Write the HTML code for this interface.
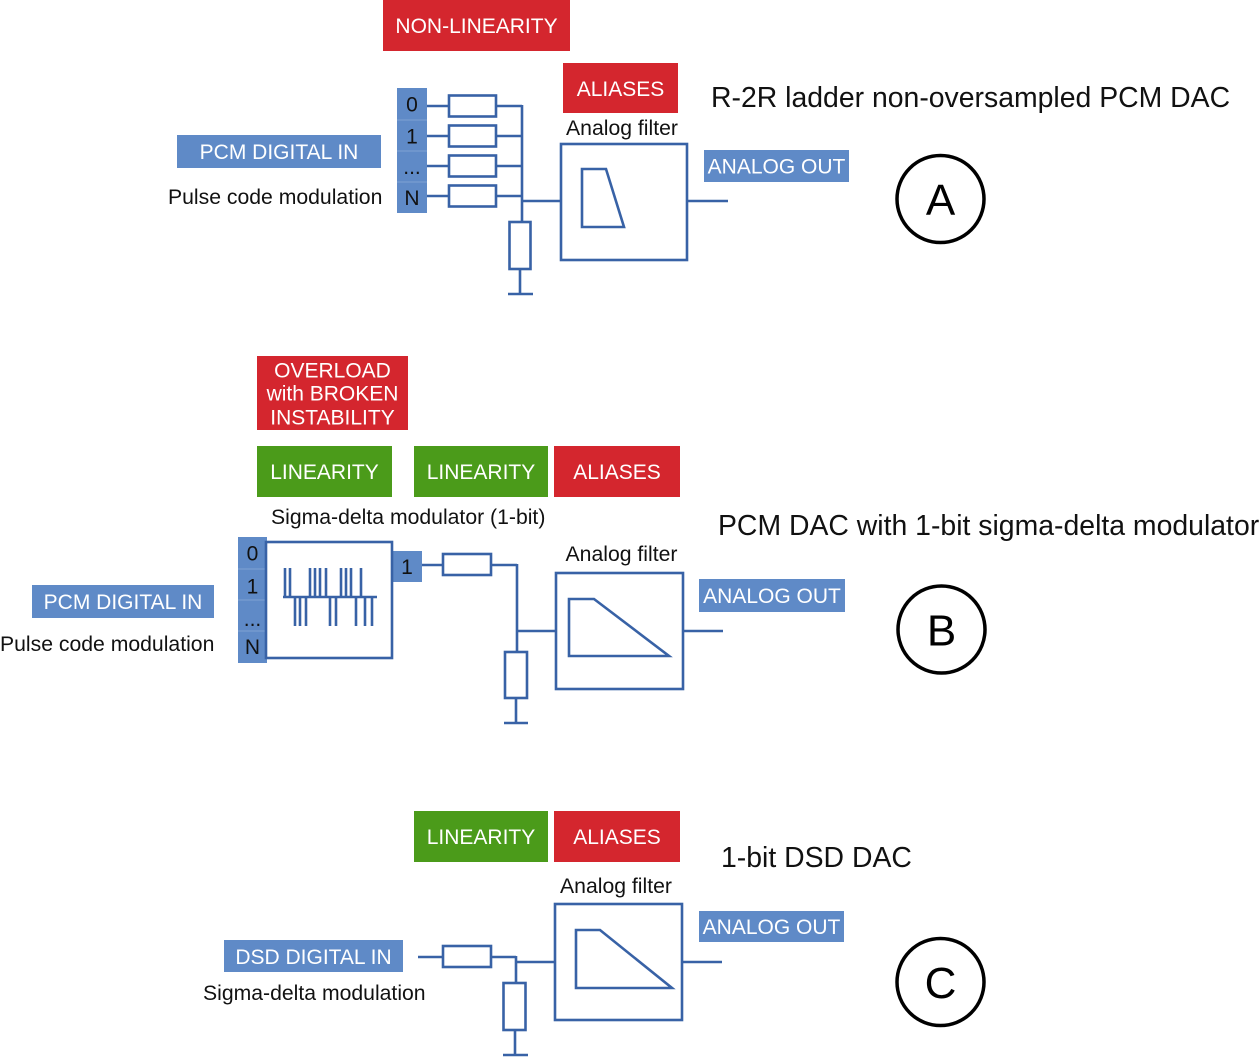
<!DOCTYPE html>
<html>
<head>
<meta charset="utf-8">
<style>
  html,body{margin:0;padding:0;background:#fff;}
  svg{display:block;}
  text{font-family:"Liberation Sans", Arial, sans-serif;}
</style>
</head>
<body>
<svg width="1260" height="1057" viewBox="0 0 1260 1057" xmlns="http://www.w3.org/2000/svg">
  <rect x="0" y="0" width="1260" height="1057" fill="#ffffff"/>

  <!-- ================= A ================= -->
  <rect x="383" y="0" width="187" height="51" fill="#d4262e"/>
  <text x="476.5" y="33" font-size="21" fill="#fff" text-anchor="middle">NON-LINEARITY</text>

  <rect x="563" y="63" width="115" height="50" fill="#d4262e"/>
  <text x="620.5" y="96" font-size="21" fill="#fff" text-anchor="middle">ALIASES</text>

  <text x="711" y="107" font-size="28.4" fill="#111">R-2R ladder non-oversampled PCM DAC</text>

  <text x="622" y="135" font-size="21.2" fill="#111" text-anchor="middle">Analog filter</text>

  <rect x="177" y="135" width="204" height="33" fill="#5f8ac7"/>
  <text x="279" y="159" font-size="21" fill="#fff" text-anchor="middle">PCM DIGITAL IN</text>
  <text x="168" y="204" font-size="21.2" fill="#111">Pulse code modulation</text>

  <!-- bit column A -->
  <rect x="397" y="88" width="30" height="125" fill="#5f8ac7"/>
  <g stroke="#7fa3d3" stroke-width="1">
    <line x1="397" y1="120" x2="427" y2="120"/>
    <line x1="397" y1="151" x2="427" y2="151"/>
    <line x1="397" y1="182" x2="427" y2="182"/>
  </g>
  <text x="412" y="111.5" font-size="21" fill="#111" text-anchor="middle">0</text>
  <text x="412" y="143.5" font-size="21" fill="#111" text-anchor="middle">1</text>
  <text x="412" y="174" font-size="21" fill="#111" text-anchor="middle">...</text>
  <text x="412" y="205" font-size="21" fill="#111" text-anchor="middle">N</text>

  <g stroke="#3862a6" stroke-width="2.6" fill="#fff">
    <line x1="427" y1="106" x2="449" y2="106"/>
    <line x1="427" y1="136" x2="449" y2="136"/>
    <line x1="427" y1="166" x2="449" y2="166"/>
    <line x1="427" y1="196" x2="449" y2="196"/>
    <rect x="449" y="95.5" width="47" height="21"/>
    <rect x="449" y="125.5" width="47" height="21"/>
    <rect x="449" y="155.5" width="47" height="21"/>
    <rect x="449" y="185.5" width="47" height="21"/>
    <line x1="496" y1="106" x2="522" y2="106"/>
    <line x1="496" y1="136" x2="522" y2="136"/>
    <line x1="496" y1="166" x2="522" y2="166"/>
    <line x1="496" y1="196" x2="522" y2="196"/>
    <line x1="522" y1="105" x2="522" y2="222"/>
    <line x1="522" y1="201" x2="561" y2="201"/>
    <rect x="509.5" y="222" width="21" height="47"/>
    <line x1="520" y1="269" x2="520" y2="294"/>
    <line x1="508" y1="294" x2="533" y2="294"/>
    <rect x="561" y="144" width="126" height="116"/>
    <polygon points="582,169 606,169 624,227 582,227" fill="none"/>
    <line x1="687" y1="201" x2="728" y2="201"/>
  </g>

  <rect x="704" y="150" width="145" height="32" fill="#5f8ac7"/>
  <text x="776.5" y="173.5" font-size="21" fill="#fff" text-anchor="middle">ANALOG OUT</text>

  <circle cx="940.5" cy="199" r="43.5" fill="none" stroke="#000" stroke-width="3.5"/>
  <text x="940.5" y="215" font-size="44" fill="#000" text-anchor="middle">A</text>

  <!-- ================= B ================= -->
  <rect x="257" y="356" width="151" height="74" fill="#d4262e"/>
  <text x="332.5" y="377.5" font-size="21" fill="#fff" text-anchor="middle">OVERLOAD</text>
  <text x="332.5" y="400.5" font-size="21" fill="#fff" text-anchor="middle">with BROKEN</text>
  <text x="332.5" y="424.5" font-size="21" fill="#fff" text-anchor="middle">INSTABILITY</text>

  <rect x="257" y="446" width="135" height="51" fill="#4b9b1a"/>
  <text x="324.5" y="479" font-size="21" fill="#fff" text-anchor="middle">LINEARITY</text>
  <rect x="414" y="446" width="134" height="51" fill="#4b9b1a"/>
  <text x="481" y="479" font-size="21" fill="#fff" text-anchor="middle">LINEARITY</text>
  <rect x="554" y="446" width="126" height="51" fill="#d4262e"/>
  <text x="617" y="479" font-size="21" fill="#fff" text-anchor="middle">ALIASES</text>

  <text x="271" y="524" font-size="21.2" fill="#111">Sigma-delta modulator (1-bit)</text>
  <text x="718" y="535" font-size="28.4" fill="#111">PCM DAC with 1-bit sigma-delta modulator</text>

  <text x="621.5" y="561" font-size="21.2" fill="#111" text-anchor="middle">Analog filter</text>

  <rect x="32" y="585" width="182" height="33" fill="#5f8ac7"/>
  <text x="123" y="609" font-size="21" fill="#fff" text-anchor="middle">PCM DIGITAL IN</text>
  <text x="0" y="651" font-size="21.2" fill="#111">Pulse code modulation</text>

  <!-- bit column B -->
  <rect x="238" y="537" width="29" height="126" fill="#5f8ac7"/>
  <g stroke="#7fa3d3" stroke-width="1">
    <line x1="238" y1="569" x2="267" y2="569"/>
    <line x1="238" y1="600" x2="267" y2="600"/>
    <line x1="238" y1="631" x2="267" y2="631"/>
  </g>
  <text x="252.5" y="560.5" font-size="21" fill="#111" text-anchor="middle">0</text>
  <text x="252.5" y="593.5" font-size="21" fill="#111" text-anchor="middle">1</text>
  <text x="252.5" y="626" font-size="21" fill="#111" text-anchor="middle">...</text>
  <text x="252.5" y="654" font-size="21" fill="#111" text-anchor="middle">N</text>

  <rect x="392" y="551" width="30" height="31" fill="#5f8ac7"/>
  <text x="407" y="574" font-size="21" fill="#111" text-anchor="middle">1</text>

  <g stroke="#3862a6" stroke-width="2.6" fill="#fff">
    <rect x="266" y="542" width="126" height="116"/>
    <!-- pulse train -->
    <line x1="283" y1="597" x2="377" y2="597"/>
    <line x1="285" y1="568" x2="285" y2="597"/>
    <line x1="290" y1="568" x2="290" y2="597"/>
    <line x1="310" y1="568" x2="310" y2="597"/>
    <line x1="315" y1="568" x2="315" y2="597"/>
    <line x1="320" y1="568" x2="320" y2="597"/>
    <line x1="326" y1="568" x2="326" y2="597"/>
    <line x1="341" y1="568" x2="341" y2="597"/>
    <line x1="346" y1="568" x2="346" y2="597"/>
    <line x1="351" y1="568" x2="351" y2="597"/>
    <line x1="361" y1="568" x2="361" y2="597"/>
    <line x1="295" y1="597" x2="295" y2="626"/>
    <line x1="300" y1="597" x2="300" y2="626"/>
    <line x1="306" y1="597" x2="306" y2="626"/>
    <line x1="330" y1="597" x2="330" y2="626"/>
    <line x1="336" y1="597" x2="336" y2="626"/>
    <line x1="356" y1="597" x2="356" y2="626"/>
    <line x1="365" y1="597" x2="365" y2="626"/>
    <line x1="372" y1="597" x2="372" y2="626"/>

    <line x1="422" y1="565" x2="443" y2="565"/>
    <rect x="443" y="554" width="48" height="21"/>
    <line x1="491" y1="565" x2="517" y2="565"/>
    <line x1="517" y1="564" x2="517" y2="652"/>
    <line x1="517" y1="631" x2="556" y2="631"/>
    <rect x="505" y="652" width="22" height="46"/>
    <line x1="516" y1="698" x2="516" y2="723"/>
    <line x1="504" y1="723" x2="528" y2="723"/>
    <rect x="556" y="573" width="127" height="116"/>
    <polygon points="569,599 594,599 669,656 569,656" fill="none"/>
    <line x1="683" y1="631" x2="723" y2="631"/>
  </g>

  <rect x="699" y="579" width="146" height="33" fill="#5f8ac7"/>
  <text x="772" y="603" font-size="21" fill="#fff" text-anchor="middle">ANALOG OUT</text>

  <circle cx="941.5" cy="629.5" r="43.5" fill="none" stroke="#000" stroke-width="3.5"/>
  <text x="941.5" y="645.5" font-size="44" fill="#000" text-anchor="middle">B</text>

  <!-- ================= C ================= -->
  <rect x="414" y="811" width="134" height="51" fill="#4b9b1a"/>
  <text x="481" y="844" font-size="21" fill="#fff" text-anchor="middle">LINEARITY</text>
  <rect x="554" y="811" width="126" height="51" fill="#d4262e"/>
  <text x="617" y="844" font-size="21" fill="#fff" text-anchor="middle">ALIASES</text>

  <text x="721" y="867" font-size="28.4" fill="#111">1-bit DSD DAC</text>
  <text x="616" y="893" font-size="21.2" fill="#111" text-anchor="middle">Analog filter</text>

  <rect x="224" y="940" width="179" height="32" fill="#5f8ac7"/>
  <text x="313.5" y="964" font-size="21" fill="#fff" text-anchor="middle">DSD DIGITAL IN</text>
  <text x="203" y="1000" font-size="21.2" fill="#111">Sigma-delta modulation</text>

  <g stroke="#3862a6" stroke-width="2.6" fill="#fff">
    <line x1="418" y1="957" x2="443" y2="957"/>
    <rect x="443" y="946" width="48" height="21"/>
    <line x1="491" y1="957" x2="516" y2="957"/>
    <line x1="516" y1="956" x2="516" y2="983"/>
    <line x1="516" y1="962" x2="555" y2="962"/>
    <rect x="503.5" y="983" width="22" height="47"/>
    <line x1="515" y1="1030" x2="515" y2="1055"/>
    <line x1="503" y1="1055" x2="528" y2="1055"/>
    <rect x="555" y="904" width="127" height="116"/>
    <polygon points="576,930 600,930 672,988 576,988" fill="none"/>
    <line x1="682" y1="962" x2="722" y2="962"/>
  </g>

  <rect x="699" y="911" width="145" height="31" fill="#5f8ac7"/>
  <text x="771.5" y="934" font-size="21" fill="#fff" text-anchor="middle">ANALOG OUT</text>

  <circle cx="940.5" cy="982" r="43.5" fill="none" stroke="#000" stroke-width="3.5"/>
  <text x="940.5" y="998" font-size="44" fill="#000" text-anchor="middle">C</text>
</svg>
</body>
</html>
